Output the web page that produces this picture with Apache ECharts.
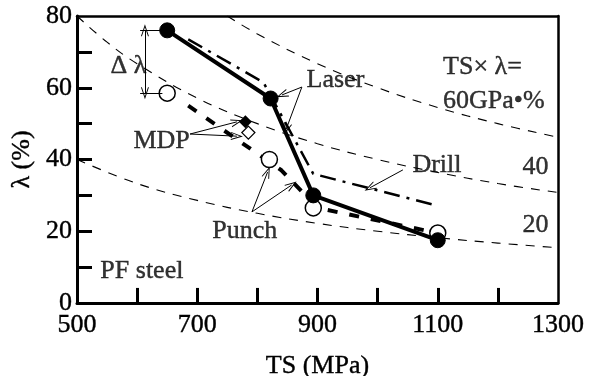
<!DOCTYPE html>
<html>
<head>
<meta charset="utf-8">
<script src="https://cdn.jsdelivr.net/npm/echarts@6/dist/echarts.min.js"></script>
<style>html,body{margin:0;padding:0;background:#fff;}#c{width:596px;height:376px;}</style>
</head>
<body>
<div id="c"></div>
<script>
// ---- data ----
const xTicks = [500, 700, 900, 1100, 1300];
const yTicks = [0, 20, 40, 60, 80];
const xTickMarks = [600, 700, 800, 900, 1000, 1100, 1200];
const yTickMarks = [10, 20, 30, 40, 50, 60, 70];

const tsLaser = [650, 822, 893, 1100];
const lamLaser = [76, 57, 30, 17.5];

const tsPunch = [650, 820, 893, 1100];
const lamPunch = [58.5, 40, 26.5, 19.5];

const tsPunchLine = [685, 840, 900, 1100];
const lamPunchLine = [55, 37, 26.5, 19.5];

const tsDrill = [685, 810, 893, 1095];
const lamDrill = [73.5, 61.5, 36, 27.3];

const tsMdpFilled = [780];
const lamMdpFilled = [50.5];
const tsMdpOpen = [785];
const lamMdpOpen = [47.5];

const isoTs60 = [750, 800, 900, 1000, 1100, 1200, 1300];
const isoLam60 = [80, 75, 66.7, 60, 54.5, 50, 46.2];
const isoTs40 = [500, 550, 600, 700, 800, 900, 1000, 1100, 1200, 1300];
const isoLam40 = [80, 72.7, 66.7, 57.1, 50, 44.4, 40, 36.4, 33.3, 30.8];
const isoTs20 = [500, 600, 700, 800, 900, 1000, 1100, 1200, 1300];
const isoLam20 = [40, 33.3, 28.6, 25, 22.2, 20, 18.2, 16.7, 15.4];

// annotation texts (anchored in data coordinates)
const noteTexts = ['Laser', 'MDP', 'Drill', 'Punch', 'PF steel', 'Δ λ', 'TS× λ=', '60GPa•%', '40', '20'];
const noteTs    = [881, 593, 1057, 724, 538, 555, 1108, 1108, 1240, 1240];
const noteLam   = [62, 45.2, 38.3, 20.1, 8.9, 66, 65.6, 56.3, 38, 21.6];

// ---- build ----
const zip = (a, b) => a.map((v, i) => [v, b[i]]);
const FONT = 'Liberation Serif';
const chevron = 'path://M5,0 L10,14 L8.8,14 L5,3.5 L1.2,14 L0,14 Z';
const X_MIN = 500, Y_MIN = 0;
const X_TICK_LEN = 25;   // in MPa units (≈15 px)
const Y_TICK_LEN = 4.2;  // in % units (≈15 px)

function arrow(from, to) {
  return [{coord: from, symbol: 'none'}, {coord: to, symbol: chevron, symbolSize: [8, 12]}];
}
function plain(from, to) {
  return [{coord: from, symbol: 'none'}, {coord: to, symbol: 'none'}];
}
function tick(from, to) {
  return [{coord: from, symbol: 'none', lineStyle: {width: 3, color: '#000'}}, {coord: to, symbol: 'none'}];
}

const markLines = [
  arrow([874, 60.2], [841, 58]),
  arrow([874, 60.2], [848, 48.5]),
  arrow([688, 47.1], [766, 50.5]),
  arrow([688, 47.1], [766, 46.5]),
  arrow([791, 25.4], [817, 36.5]),
  arrow([791, 25.4], [857, 32.9]),
  arrow([1042, 37.1], [987, 32.1]),
  [{coord: [613, 76], symbol: chevron, symbolSize: [8, 12]}, {coord: [613, 58.5], symbol: chevron, symbolSize: [8, 12]}],
  plain([605, 76], [645, 76]),
  plain([605, 58.5], [642, 58.5])
].concat(
  xTickMarks.map(v => tick([v, Y_MIN], [v, Y_MIN + Y_TICK_LEN])),
  yTickMarks.map(v => tick([X_MIN, v], [X_MIN + X_TICK_LEN, v]))
);

const isoStyle = {color: '#000', width: 1.1, type: [9, 8]};
const txt = {fontFamily: FONT, fontSize: 26, color: '#000', textBorderColor: '#000', textBorderWidth: 0.4};

const chart = echarts.init(document.getElementById('c'), null, {renderer: 'canvas'});
chart.setOption({
  animation: false,
  backgroundColor: '#fff',
  textStyle: {fontFamily: FONT, color: '#000'},
  grid: {left: 77, top: 16, right: 38, bottom: 73, containLabel: false, outerBoundsMode: 'none'},
  xAxis: [{
    type: 'value', min: 500, max: 1300, interval: 100, position: 'bottom',
    name: 'TS (MPa)', nameLocation: 'middle', nameGap: 50,
    nameTextStyle: txt,
    axisLine: {show: true, onZero: false, lineStyle: {color: '#000', width: 3}},
    axisTick: {show: false},
    axisLabel: Object.assign({margin: 9, formatter: v => xTicks.includes(v) ? String(v) : ''}, txt),
    splitLine: {show: false}
  }, {
    type: 'value', min: 500, max: 1300, interval: 100, position: 'top',
    axisLine: {show: true, onZero: false, lineStyle: {color: '#000', width: 2.5}},
    axisTick: {show: false}, axisLabel: {show: false}, splitLine: {show: false}
  }],
  yAxis: [{
    type: 'value', min: 0, max: 80, interval: 10, position: 'left',
    name: 'λ (%)', nameLocation: 'middle', nameGap: 32, nameRotate: 90,
    nameTextStyle: txt,
    axisLine: {show: true, onZero: false, lineStyle: {color: '#000', width: 3}},
    axisTick: {show: false},
    axisLabel: Object.assign({margin: 5, formatter: v => yTicks.includes(v) ? String(v) : ''}, txt),
    splitLine: {show: false}
  }, {
    type: 'value', min: 0, max: 80, interval: 10, position: 'right',
    axisLine: {show: true, onZero: false, lineStyle: {color: '#000', width: 2.5}},
    axisTick: {show: false}, axisLabel: {show: false}, splitLine: {show: false}
  }],
  series: [
    {type: 'line', data: zip(isoTs60, isoLam60), smooth: 0.4, symbol: 'none', lineStyle: isoStyle, z: 1},
    {type: 'line', data: zip(isoTs40, isoLam40), smooth: 0.4, symbol: 'none', lineStyle: isoStyle, z: 1},
    {type: 'line', data: zip(isoTs20, isoLam20), smooth: 0.4, symbol: 'none', lineStyle: isoStyle, z: 1},
    {type: 'line', data: zip(tsDrill, lamDrill), symbol: 'none',
      lineStyle: {color: '#000', width: 2.5, type: [16, 7, 3, 7]}, z: 2},
    {type: 'line', data: zip(tsPunchLine, lamPunchLine), symbol: 'none',
      lineStyle: {color: '#000', width: 4, type: [10, 12]}, z: 2},
    {type: 'scatter', data: zip(tsPunch, lamPunch), symbol: 'circle', symbolSize: 16,
      itemStyle: {color: '#fff', borderColor: '#000', borderWidth: 1.5, opacity: 1}, z: 3},
    {type: 'line', data: zip(tsLaser, lamLaser), symbol: 'circle', symbolSize: 15, showAllSymbol: true,
      lineStyle: {color: '#000', width: 4}, itemStyle: {color: '#000', borderColor: '#000'}, z: 4},
    {type: 'scatter', data: zip(tsMdpOpen, lamMdpOpen), symbol: 'diamond', symbolSize: 13,
      itemStyle: {color: '#fff', borderColor: '#000', borderWidth: 1.3, opacity: 1}, z: 3},
    {type: 'scatter', data: zip(tsMdpFilled, lamMdpFilled), symbol: 'diamond', symbolSize: 13,
      itemStyle: {color: '#000', opacity: 1}, z: 4},
    {type: 'scatter', symbolSize: 1, itemStyle: {color: 'rgba(0,0,0,0)'}, z: 5, silent: true,
      data: noteTexts.map((t, i) => ({value: [noteTs[i], noteLam[i]],
        label: Object.assign({show: true, formatter: t, position: 'right', distance: 0}, txt)})),
      markLine: {silent: true, symbol: ['none', 'none'], label: {show: false},
        lineStyle: {color: '#000', width: 1, type: 'solid'}, data: markLines}
    }
  ]
});
</script>
</body>
</html>
